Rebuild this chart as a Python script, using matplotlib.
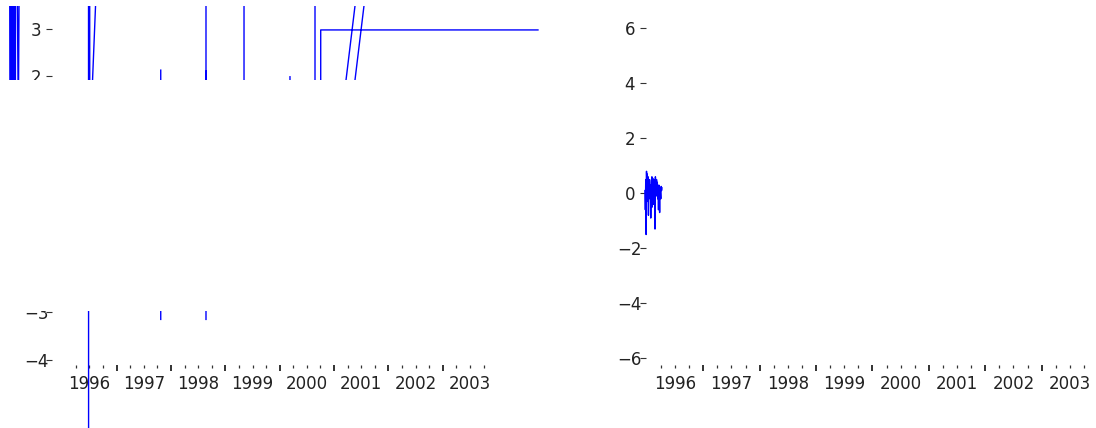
import matplotlib
matplotlib.use('Agg')
import matplotlib.pyplot as plt
import matplotlib.ticker as mticker
from matplotlib.patches import Rectangle
import numpy as np

nan = np.nan

# left series: separate runs split by NaN
left_years = [1995.040, 1995.042, 1995.058, 1995.062, 1995.090, 1995.097,
              1995.110, 1995.118, 1995.140, 1995.148, 1995.195, 1995.215, nan,
              1996.485, 1996.487, nan,
              1996.505, 1996.508, nan,
              1996.545, 1996.650, nan,
              1997.813, 1997.813, nan,
              1998.645, 1998.645, nan,
              1998.650, 1998.650, nan,
              1999.344, 1999.344, nan,
              2000.189, 2000.189, nan,
              2000.649, 2000.649, nan,
              2000.754, 2000.754, 2004.748, nan,
              2001.123, 2001.492, nan,
              2001.288, 2001.657]
left_values = [0.8, 8.0, 0.2, 8.0, 1.2, 8.0,
               0.5, 8.0, 0.9, 8.0, 1.0, 5.0, nan,
               9.0, -9.0, nan,
               8.0, 1.0, nan,
               1.5, 4.5, nan,
               2.12, -3.15, nan,
               8.0, -3.15, nan,
               2.1, 1.0, nan,
               8.0, 0.5, nan,
               1.98, 1.5, nan,
               8.0, 0.0, nan,
               0.0, 2.97, 2.97, nan,
               1.0, 4.5, nan,
               1.0, 4.5]

# right series: short noisy run at the start of 1996
right_values = [0.1, -0.6, 0.5, -1.5, 0.8, -0.3, 0.7, 0.2, 0.6, -0.8,
                0.4, 0.1, 0.5, -0.2, 0.3, -0.9, 0.0, 0.4, 0.6, -0.5,
                0.55, 0.2, -0.4, 0.5, 0.1, -0.3, -1.3, 0.6, 0.3, -0.1,
                0.5, 0.0, 0.4, -0.2, 0.2, -0.6, 0.3, 0.1, -0.7, 0.2,
                0.0, -0.2, 0.25, 0.1, 0.2]
right_years = np.linspace(1995.966, 1996.267, len(right_values))

year_labels = list(range(1996, 2004))
left_yticks = [-4, -3, -2, -1, 0, 1, 2, 3]
right_yticks = [-6, -4, -2, 0, 2, 4, 6]

W, H = 1096, 428
fig = plt.figure(figsize=(W / 100, H / 100), dpi=100)
fig.patch.set_facecolor('white')

txt = '#222222'


def style_axis(ax, yaxis_pos):
    for s in ax.spines.values():
        s.set_visible(False)
    ax.spines['left'].set_position(('axes', yaxis_pos))
    ax.spines['bottom'].set_position(('axes', (H - 365) / (H - 6)))
    ax.xaxis.set_major_locator(mticker.FixedLocator(range(1997, 2004)))
    ax.xaxis.set_major_formatter(mticker.NullFormatter())
    ax.xaxis.set_minor_locator(mticker.FixedLocator(
        [y + q for y in range(1996, 2004) for q in (0.25, 0.5, 0.75)]))
    ax.xaxis.set_minor_formatter(mticker.FuncFormatter(
        lambda v, p: f'{int(v)}' if abs(v % 1 - 0.5) < 1e-6 else ''))
    ax.tick_params(axis='x', which='major', length=4.5, width=1.2,
                   color='#111111', labelbottom=False)
    ax.tick_params(axis='x', which='minor', length=2.0, width=0.9,
                   color='#333333', pad=5, labelsize=12, labelcolor=txt)
    ax.tick_params(axis='y', length=4.3, width=0.8, color='#333333',
                   pad=7, labelsize=12, labelcolor=txt)
    for t in ax.get_yticklabels():
        t.set_horizontalalignment('center')
    ax.set_facecolor('none')


# left panel
axl = fig.add_axes([0, 0, 560 / W, (H - 6) / H])
axl.plot(left_years, left_values, color='#0000ff', lw=1.0)
axl.set_xlim(1994.858, 2005.153)
axl.set_ylim(-5.446, 3.476)
axl.set_yticks(left_yticks)
style_axis(axl, 52 / 560)

# right panel
axr = fig.add_axes([580 / W, 0, 516 / W, (H - 6) / H])
axr.plot(right_years, right_values, color='#0000ff', lw=1.0)
axr.set_xlim(1994.814, 2003.963)
axr.set_ylim(-8.535, 6.811)
axr.set_yticks(right_yticks)
style_axis(axr, (645.5 - 580) / 516)

# blank band over the middle of the left panel
fig.add_artist(Rectangle((0, (H - 311) / H), 570 / W, (311 - 80) / H,
                         transform=fig.transFigure, facecolor='white',
                         edgecolor='none', zorder=5))

fig.savefig('out.png', dpi=100)
